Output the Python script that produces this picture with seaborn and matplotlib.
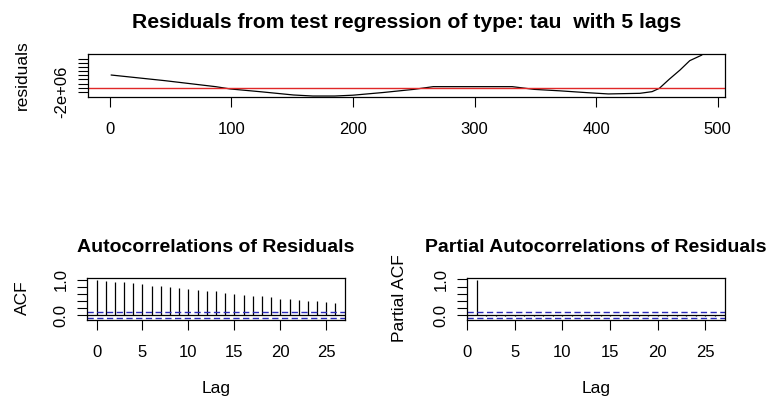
import matplotlib
matplotlib.use("Agg")
import matplotlib.pyplot as plt
import numpy as np
import pandas as pd
import seaborn as sns

# Residual series (time index, residual value)
resid_index = [1, 45, 87, 99, 125, 151, 167, 185, 200, 225, 250, 266, 331,
               349, 370, 393, 410, 436, 446, 452, 460, 469, 477, 487]
resid_value = [6.1e6, 3.4e6, 0.5e6, -0.6e6, -2.0e6, -3.5e6, -4.0e6, -4.0e6,
               -3.6e6, -2.3e6, -0.8e6, 0.5e6, 0.5e6, -0.8e6, -1.5e6, -2.4e6,
               -3.0e6, -2.7e6, -1.9e6, -0.3e6, 4.0e6, 8.5e6, 13.0e6, 15.7e6]

# Autocorrelations of the residuals, lags 0..26
acf_lags = list(range(0, 27))
acf_values = [1.000, 0.972, 0.944, 0.944, 0.907, 0.870, 0.833, 0.833, 0.796,
              0.769, 0.731, 0.694, 0.667, 0.667, 0.630, 0.602, 0.556, 0.528,
              0.528, 0.500, 0.463, 0.463, 0.426, 0.398, 0.398, 0.361, 0.333]

# Partial autocorrelations, lags 1..26
pacf_lags = list(range(1, 27))
pacf_values = [0.995, -0.030, -0.020, -0.025, -0.015, -0.020, -0.030, -0.010,
               -0.020, -0.025, -0.015, -0.020, -0.030, -0.020, -0.015, -0.025,
               -0.020, -0.010, -0.030, -0.020, -0.015, -0.025, -0.020, -0.015,
               -0.020, -0.025]

n_obs = 489
conf_limit = 1.96 / np.sqrt(n_obs)

main_title = "Residuals from test regression of type: tau  with 5 lags"

sns.set_theme(style="white")
plt.rcParams["font.family"] = ["Liberation Sans", "DejaVu Sans"]
plt.rcParams["lines.scale_dashes"] = False

W, H = 770, 404
DPI = 100
fig = plt.figure(figsize=(W / DPI, H / DPI), dpi=DPI)
fig.patch.set_facecolor("white")


def box(left, top, right, bottom):
    return [left / W, 1 - bottom / H, (right - left) / W, (bottom - top) / H]


def style_axes(ax):
    ax.set_facecolor("white")
    for s in ax.spines.values():
        s.set_visible(True)
        s.set_color("black")
        s.set_linewidth(0.9)
    ax.tick_params(axis="both", direction="out", length=7.2, width=0.8,
                   color="black", labelsize=12, labelcolor="black",
                   bottom=True, left=True, top=False, right=False)
    ax.tick_params(axis="x", pad=10.5)
    ax.tick_params(axis="y", pad=6)
    for lab in ax.get_yticklabels():
        lab.set_rotation(90)
        lab.set_va("center")
    ax.grid(False)


title_kw = dict(fontweight="bold", ha="center", va="center", color="black")
label_kw = dict(fontsize=12.5, color="black", ha="center", va="center")
blue = "#2a2ab8"
ci_dash = (0, (4.5, 2.5))

# ---- residual series ----
ax1 = fig.add_axes(box(88, 54, 725, 97))
df_res = pd.DataFrame({"t": resid_index, "resid": resid_value})
sns.lineplot(data=df_res, x="t", y="resid", ax=ax1, color="black", linewidth=0.9)
ax1.axhline(0, color="#e02828", linewidth=1.0)
ax1.set_xlim(-18, 506)
ax1.set_ylim(-4.47e6, 16.2e6)
ax1.set_xticks([0, 100, 200, 300, 400, 500])
ax1.set_xticklabels(["0", "100", "200", "300", "400", "500"])
y_ticks = np.arange(-2e6, 14.1e6, 2e6)
ax1.set_yticks(y_ticks)
ax1.set_yticklabels(["-2e+06"] + [""] * (len(y_ticks) - 1))
ax1.set_xlabel("")
ax1.set_ylabel("")
style_axes(ax1)
fig.text(406.5 / W, 1 - 22 / H, main_title, fontsize=15.2, **title_kw)
fig.text(22 / W, 1 - 75 / H, "residuals", rotation=90, **label_kw)

# ---- ACF ----
ax2 = fig.add_axes(box(87, 278, 345, 320))
ax2.vlines(acf_lags, 0, acf_values, color="black", linewidth=0.9)
ax2.axhline(0, color="black", linewidth=0.9)
for c in (conf_limit, -conf_limit):
    ax2.axhline(c, color=blue, linewidth=1.0, linestyle=ci_dash)
ax2.set_xlim(-1.04, 27.04)
lo, hi = -conf_limit, 1.0
pad = 0.04 * (hi - lo)
ax2.set_ylim(lo - pad, hi + pad)
ax2.set_xticks([0, 5, 10, 15, 20, 25])
ax2.set_xticklabels(["0", "5", "10", "15", "20", "25"])
ax2.set_yticks([0, 0.2, 0.4, 0.6, 0.8, 1.0])
ax2.set_yticklabels(["0.0", "", "", "", "", "1.0"])
style_axes(ax2)
fig.text(216 / W, 1 - 247 / H, "Autocorrelations of Residuals", fontsize=14, **title_kw)
fig.text(22 / W, 1 - 298 / H, "ACF", rotation=90, **label_kw)
fig.text(216 / W, 1 - 388 / H, "Lag", **label_kw)

# ---- PACF ----
ax3 = fig.add_axes(box(467, 278, 724.5, 320))
ax3.vlines(pacf_lags, 0, pacf_values, color="black", linewidth=0.9)
ax3.axhline(0, color="black", linewidth=0.9)
for c in (conf_limit, -conf_limit):
    ax3.axhline(c, color=blue, linewidth=1.0, linestyle=ci_dash)
ax3.set_xlim(0.0, 27.0)
lo, hi = -conf_limit, max(pacf_values)
pad = 0.04 * (hi - lo)
ax3.set_ylim(lo - pad, hi + pad)
ax3.set_xticks([0, 5, 10, 15, 20, 25])
ax3.set_xticklabels(["0", "5", "10", "15", "20", "25"])
ax3.set_yticks([0, 0.2, 0.4, 0.6, 0.8, 1.0])
ax3.set_yticklabels(["0.0", "", "", "", "", "1.0"])
style_axes(ax3)
fig.text(596 / W, 1 - 247 / H, "Partial Autocorrelations of Residuals", fontsize=14, **title_kw)
fig.text(399 / W, 1 - 298 / H, "Partial ACF", rotation=90, **label_kw)
fig.text(596 / W, 1 - 388 / H, "Lag", **label_kw)

fig.savefig("out.png", dpi=DPI, facecolor="white")
